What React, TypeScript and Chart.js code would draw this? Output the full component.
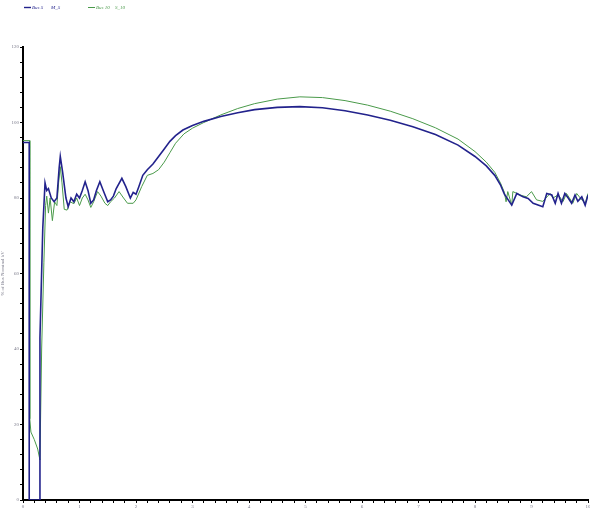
import React, { useEffect, useRef } from "react";
import { Chart, registerables } from "chart.js";

Chart.register(...registerables);

// ---- data ----
const seriesNames = ["Bus 5", "Bus 10"];
const seriesTags = ["M_5", "S_10"];
const yAxisTitle = "% of Bus Nominal kV";

const busFiveTime = [
  0, 0.11, 0.11, 0.3, 0.3, 0.35, 0.39, 0.42, 0.45, 0.5,
  0.55, 0.6, 0.64, 0.66, 0.7, 0.76, 0.8, 0.85, 0.9, 0.95,
  1.0, 1.05, 1.1, 1.15, 1.2, 1.25, 1.3, 1.36, 1.42, 1.5,
  1.55, 1.6, 1.65, 1.75, 1.82, 1.9, 1.95, 2.0, 2.05, 2.12,
  2.2, 2.3, 2.4, 2.5, 2.6, 2.7, 2.83, 3.0, 3.2, 3.5,
  3.8, 4.1, 4.5, 4.9, 5.3, 5.7, 6.1, 6.5, 6.9, 7.3,
  7.7, 8.0, 8.2, 8.35, 8.45, 8.52, 8.65, 8.74, 8.85, 8.94,
  9.03, 9.2, 9.27, 9.36, 9.42, 9.47, 9.53, 9.59, 9.65, 9.71,
  9.77, 9.82, 9.89, 9.95, 10.0,
];
const busFiveLevel = [
  94.7, 94.7, 0, 0, 43, 72, 84, 82, 82.5, 80,
  79, 80, 88, 91, 87, 80, 77.7, 80, 79, 81,
  80, 82, 84.3, 82, 78.6, 79.5, 82, 84.3, 82, 79,
  79.5, 80.5, 82.5, 85.2, 83, 80, 81.5, 81, 83, 86,
  87.5, 89, 91, 93, 95, 96.5, 98, 99.2, 100.3, 101.6,
  102.6, 103.4, 104, 104.2, 103.9, 103.1, 102, 100.6, 98.9, 96.8,
  94, 91, 88.5, 86, 83.5, 81, 78.1, 81.2, 80.3, 79.9,
  78.6, 77.7, 81.2, 80.8, 78.6, 81.2, 78.6, 81.2, 80, 78.6,
  80.8, 79.1, 80.3, 78.1, 80.8,
];

const busTenTime = [
  0, 0.12, 0.12, 0.14, 0.2, 0.26, 0.3, 0.33, 0.37, 0.4,
  0.42, 0.45, 0.48, 0.52, 0.56, 0.6, 0.63, 0.66, 0.69, 0.73,
  0.78, 0.83, 0.9, 0.95, 1.0, 1.05, 1.1, 1.15, 1.2, 1.25,
  1.32, 1.38, 1.45, 1.5, 1.55, 1.62, 1.7, 1.78, 1.85, 1.95,
  2.0, 2.1, 2.2, 2.3, 2.4, 2.5, 2.6, 2.7, 2.85, 3.0,
  3.2, 3.5, 3.8, 4.1, 4.5, 4.9, 5.3, 5.7, 6.1, 6.5,
  6.9, 7.3, 7.7, 8.0, 8.2, 8.35, 8.45, 8.52, 8.55, 8.58,
  8.65, 8.67, 8.8, 8.91, 9.0, 9.09, 9.2, 9.33, 9.38, 9.47,
  9.56, 9.62, 9.73, 9.8, 9.89, 9.95, 10.0,
];
const busTenLevel = [
  95.2, 95.2, 21.5, 18, 16, 13.5, 10.6, 40, 63, 78,
  80.5, 76, 80, 74, 79, 78, 84, 88.3, 84, 77,
  76.8, 79, 78.5, 80, 78, 80, 81, 79.5, 77.5, 79,
  81.7, 80.5, 78.6, 78, 79, 80, 81.7, 80, 78.6, 78.6,
  79.5, 83, 86, 86.5, 87.5, 89.5, 92, 94.5, 97, 98.5,
  100, 102, 103.7, 105, 106.2, 106.8, 106.6, 105.8, 104.6, 103,
  101, 98.6, 95.6, 92.3, 89.5, 86.8, 84, 81.5, 79, 81.7,
  78.1, 81.7, 80.8, 80.3, 81.7, 79.5, 79.1, 81.2, 80, 80.8,
  79.1, 81.2, 78.6, 81.2, 79.5, 78.6, 81.2,
];

const xMin = 0;
const xMax = 10;
const xStep = 0.2;
const yMin = 0;
const yMax = 120;
const yStep = 4;
const yLabelEvery = 20;

const BLUE = "#22228c";
const GREEN = "#4a9a4a";
const TICK_COLOR = "#7a7a8a";
const FONT = "'Liberation Serif', 'DejaVu Serif', serif";

export default function App() {
  const ref = useRef<HTMLCanvasElement>(null);

  useEffect(() => {
    document.body.style.margin = "0";
    const canvas = ref.current;
    if (!canvas) return;

    const legendPlugin = {
      id: "miniLegend",
      afterDraw(chart: any) {
        const ctx = chart.ctx;
        ctx.save();
        const items = [
          { color: BLUE, lx: 24, tx: 32, gx: 51, width: 1.4 },
          { color: GREEN, lx: 88, tx: 96, gx: 115, width: 1 },
        ];
        const y = 7.5;
        items.forEach((it, i) => {
          ctx.strokeStyle = it.color;
          ctx.lineWidth = it.width;
          ctx.beginPath();
          ctx.moveTo(it.lx, y);
          ctx.lineTo(it.lx + 7, y);
          ctx.stroke();
          ctx.fillStyle = it.color;
          ctx.font = `italic 5px ${FONT}`;
          ctx.textBaseline = "middle";
          ctx.textAlign = "left";
          ctx.fillText(seriesNames[i], it.tx, y);
          ctx.fillText(seriesTags[i], it.gx, y);
        });
        ctx.restore();
      },
    };

    const chart = new Chart(canvas, {
      type: "line",
      data: {
        datasets: [
          {
            label: seriesNames[0],
            data: busFiveTime.map((t, i) => ({ x: t, y: busFiveLevel[i] })),
            borderColor: BLUE,
            borderWidth: 1.6,
            pointRadius: 0,
            tension: 0,
            fill: false,
          },
          {
            label: seriesNames[1],
            data: busTenTime.map((t, i) => ({ x: t, y: busTenLevel[i] })),
            borderColor: GREEN,
            borderWidth: 1,
            pointRadius: 0,
            tension: 0,
            fill: false,
          },
        ],
      },
      options: {
        responsive: false,
        animation: false,
        events: [],
        layout: { padding: { top: 47, right: 2, bottom: 0, left: 0 } },
        plugins: {
          legend: { display: false },
          tooltip: { enabled: false },
        },
        scales: {
          x: {
            type: "linear",
            min: xMin,
            max: xMax,
            afterFit(scale: any) {
              scale.height = 11;
              scale.paddingLeft = 0;
              scale.paddingRight = 0;
            },
            border: { display: true, color: "#000", width: 2 },
            grid: {
              drawOnChartArea: false,
              drawTicks: true,
              tickLength: 3,
              color: "#000",
              tickColor: "#000",
              tickWidth: 1,
            },
            ticks: {
              stepSize: xStep,
              autoSkip: false,
              maxRotation: 0,
              padding: 1,
              color: TICK_COLOR,
              font: { family: FONT, size: 5 },
              callback: (v: any) => {
                const n = Number(v);
                return Math.abs(n - Math.round(n)) < 1e-6 ? String(Math.round(n)) : "";
              },
            },
          },
          y: {
            type: "linear",
            min: yMin,
            max: yMax,
            afterFit(scale: any) {
              scale.width = 23;
              scale.paddingTop = 0;
              scale.paddingBottom = 0;
            },
            border: { display: true, color: "#000", width: 2 },
            grid: {
              drawOnChartArea: false,
              drawTicks: true,
              tickLength: 3,
              color: "#000",
              tickColor: "#000",
              tickWidth: 1,
            },
            title: {
              display: true,
              text: yAxisTitle,
              color: TICK_COLOR,
              font: { family: FONT, size: 5 },
              padding: 0,
            },
            ticks: {
              stepSize: yStep,
              autoSkip: false,
              padding: 1,
              color: TICK_COLOR,
              font: { family: FONT, size: 5 },
              callback: (v: any) => {
                const n = Math.round(Number(v));
                return n % yLabelEvery === 0 ? String(n) : "";
              },
            },
          },
        },
      },
      plugins: [legendPlugin],
    } as any);

    return () => chart.destroy();
  }, []);

  return <canvas ref={ref} width={590} height={511} style={{ display: "block" }} />;
}
